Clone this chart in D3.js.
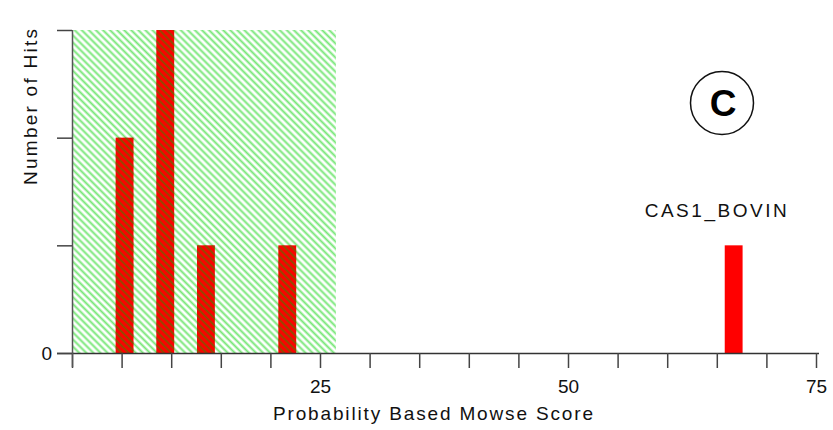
<!DOCTYPE html>
<html>
<head>
<meta charset="utf-8">
<script src="https://cdn.jsdelivr.net/npm/d3@7"></script>
<style>
  html, body { margin: 0; padding: 0; background: #fff; }
  svg { display: block; font-family: "Liberation Sans", Arial, sans-serif; }
</style>
</head>
<body>
<svg id="chart" width="833" height="430"></svg>
<script>
// Mowse score histogram
const scores = [5.3, 9.4, 13.5, 21.7, 66.7];   // bin centres
const hits = [2, 3, 1, 1, 1];                   // number of hits per bin
const barWidthScore = 1.8;                      // bin width in score units
const threshold = 26.6;                         // significance threshold (hatched below)
const xTickValues = d3.range(0, 76, 5);
const xTickLabels = { 25: "25", 50: "50", 75: "75" };
const yTickValues = [0, 1, 2, 3];
const yTickLabels = { 0: "0" };
const annotation = { score: 66.7, text: "CAS1_BOVIN" };
const panelLetter = "C";

const svg = d3.select("#chart");
const x = d3.scaleLinear().domain([0, 75]).range([72, 816]);
const y = d3.scaleLinear().domain([0, 3]).range([353, 30]);

// Diagonal hatch patterns: one over white background, a darker one over bars
const defs = svg.append("defs");
function hatch(id, color, width, opacity) {
  const p = defs.append("pattern")
    .attr("id", id)
    .attr("patternUnits", "userSpaceOnUse")
    .attr("width", 5).attr("height", 5)
    .attr("patternTransform", "rotate(-45)");
  p.append("line")
    .attr("x1", 1.5).attr("y1", 0).attr("x2", 1.5).attr("y2", 5)
    .attr("stroke", color).attr("stroke-width", width).attr("stroke-opacity", opacity);
}
hatch("hatch", "#5fe35f", 2.0, 0.85);
hatch("hatchBar", "#4c7a00", 1.7, 0.75);

const bars = scores.map((s, i) => ({ s, h: hits[i] }));
const bx = d => x(d.s - barWidthScore / 2);
const bw = d => x(d.s + barWidthScore / 2) - x(d.s - barWidthScore / 2);

// Hatched threshold region
svg.append("rect")
  .attr("x", x(0) + 1)
  .attr("y", y(3))
  .attr("width", x(threshold) - x(0) - 1)
  .attr("height", y(0) - y(3))
  .attr("fill", "url(#hatch)");

// Bars
svg.append("g").selectAll("rect")
  .data(bars)
  .join("rect")
  .attr("x", bx).attr("width", bw)
  .attr("y", d => y(d.h))
  .attr("height", d => y(0) - y(d.h))
  .attr("fill", "#ff0000");

// Hatch continues across bars inside the threshold region
svg.append("g").selectAll("rect")
  .data(bars.filter(d => d.s < threshold))
  .join("rect")
  .attr("x", bx).attr("width", bw)
  .attr("y", d => y(d.h))
  .attr("height", d => y(0) - y(d.h))
  .attr("fill", "url(#hatchBar)");

// X axis
const xAxis = d3.axisBottom(x)
  .tickValues(xTickValues)
  .tickSize(15)
  .tickSizeOuter(0)
  .tickFormat(d => xTickLabels[d] || "");
const gx = svg.append("g").attr("transform", `translate(0,${y(0)})`).call(xAxis);
gx.select(".domain").attr("stroke", "#333").attr("stroke-width", 1.5)
  .attr("d", `M${x(0) - 15},0.5H${x(75) + 3}`);
gx.selectAll(".tick line").attr("stroke", "#444").attr("stroke-width", 1.5);
gx.selectAll(".tick text")
  .attr("y", 27).attr("dy", "0.71em")
  .attr("font-size", 19).attr("fill", "#111")
  .attr("font-family", "'Liberation Sans', Arial, sans-serif");

// Y axis
const yAxis = d3.axisLeft(y)
  .tickValues(yTickValues)
  .tickSize(15)
  .tickSizeOuter(0)
  .tickFormat(d => yTickLabels[d] !== undefined ? yTickLabels[d] : "");
const gy = svg.append("g").attr("transform", `translate(${x(0)},0)`).call(yAxis);
gy.select(".domain").attr("stroke", "#555").attr("stroke-width", 1.5)
  .attr("d", `M0.5,${y(3)}V${y(0) + 14}`);
gy.selectAll(".tick line").attr("stroke", "#444").attr("stroke-width", 1.5);
gy.selectAll(".tick text")
  .attr("x", -20).attr("dy", "0.35em")
  .attr("font-size", 19).attr("fill", "#111")
  .attr("font-family", "'Liberation Sans', Arial, sans-serif");

// Axis titles
svg.append("text")
  .attr("x", 433).attr("y", 420)
  .attr("text-anchor", "middle")
  .attr("font-size", 19).attr("fill", "#111")
  .attr("textLength", 320).attr("lengthAdjust", "spacing")
  .text("Probability Based Mowse Score");

svg.append("text")
  .attr("transform", "translate(37,107) rotate(-90)")
  .attr("text-anchor", "middle")
  .attr("font-size", 19).attr("fill", "#111")
  .attr("textLength", 156).attr("lengthAdjust", "spacing")
  .text("Number of Hits");

// Annotation over the highest-scoring bin
svg.append("text")
  .attr("x", x(annotation.score) - 18).attr("y", 217)
  .attr("text-anchor", "middle")
  .attr("font-size", 19).attr("fill", "#111")
  .attr("textLength", 142).attr("lengthAdjust", "spacing")
  .text(annotation.text);

// Panel letter
svg.append("circle")
  .attr("cx", 722).attr("cy", 103).attr("r", 31.5)
  .attr("fill", "none").attr("stroke", "#111").attr("stroke-width", 1.5);
svg.append("text")
  .attr("x", 723).attr("y", 116)
  .attr("text-anchor", "middle")
  .attr("font-size", 37).attr("font-weight", "bold").attr("fill", "#000")
  .text(panelLetter);
</script>
</body>
</html>
